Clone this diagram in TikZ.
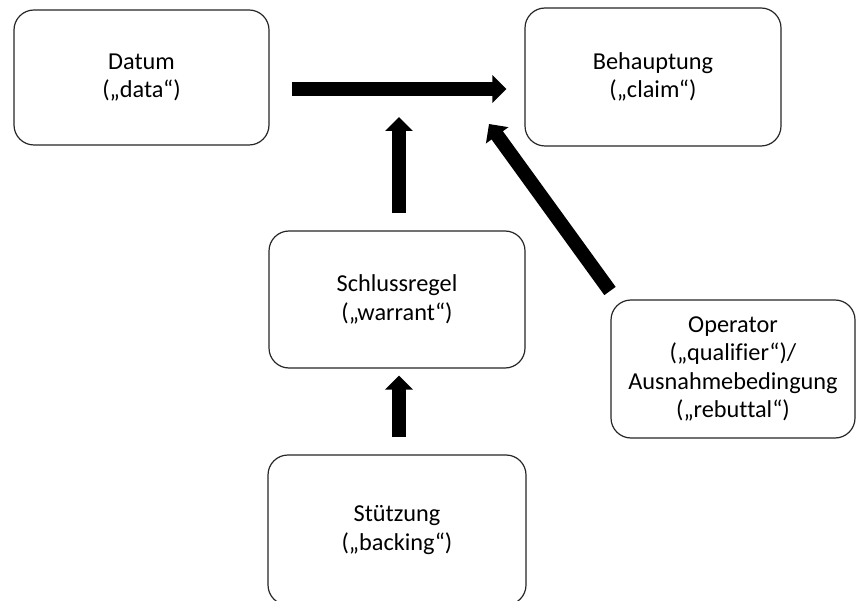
\documentclass[tikz,border=0pt]{standalone}
\usepackage{fontspec}
\setmainfont{Carlito}[Ligatures={NoCommon}]
\usetikzlibrary{arrows.meta}

\tikzset{
  box/.style={draw=black!85, line width=1.2pt, rounded corners=20pt,
    fill=white, align=center, inner sep=0pt,
    font=\fontsize{24.3}{28.5}\selectfont},
  bigarrow/.style={line width=14pt,
    -{Triangle[width=27pt,length=14pt]}},
}

\begin{document}
\begin{tikzpicture}[x=1pt, y=-1pt]
  \useasboundingbox (0,0) rectangle (856,601);
  \clip (0,0) rectangle (856,601);

  % the five elements of the argument
  \node[box, minimum width=255pt, minimum height=135pt] (datum)
    at (141.5,77.5) {Datum\\(„data“)};
  \node[box, minimum width=256pt, minimum height=138pt] (claim)
    at (653,77) {Behauptung\\(„claim“)};
  \node[box, minimum width=256pt, minimum height=137pt] (warrant)
    at (397,299.5) {Schlussregel\\(„warrant“)};
  \node[box, minimum width=244pt, minimum height=138pt] (qualifier)
    at (733,369) {Operator\\(„qualifier“)/\\Ausnahmebedingung\\(„rebuttal“)};
  \node[box, minimum width=258pt, minimum height=150pt] (backing)
    at (397,530) {Stützung\\(„backing“)};

  % free ends of the arrows that point at the main inference
  \coordinate (warranttip) at (399,117);
  \coordinate (qualtip) at (489,124);
  \coordinate (qualtail) at (610,291);

  % connectors
  \draw[bigarrow] ([xshift=22pt,yshift=-11.5pt]datum.east)
    -- ([xshift=-18pt,yshift=-12pt]claim.west);
  \draw[bigarrow] ([xshift=2pt,yshift=17pt]warrant.north) -- (warranttip);
  \draw[bigarrow] ([xshift=2pt,yshift=17pt]backing.north)
    -- ([xshift=2pt,yshift=-7pt]warrant.south);
  \draw[bigarrow] (qualtail) -- (qualtip);
\end{tikzpicture}
\end{document}
